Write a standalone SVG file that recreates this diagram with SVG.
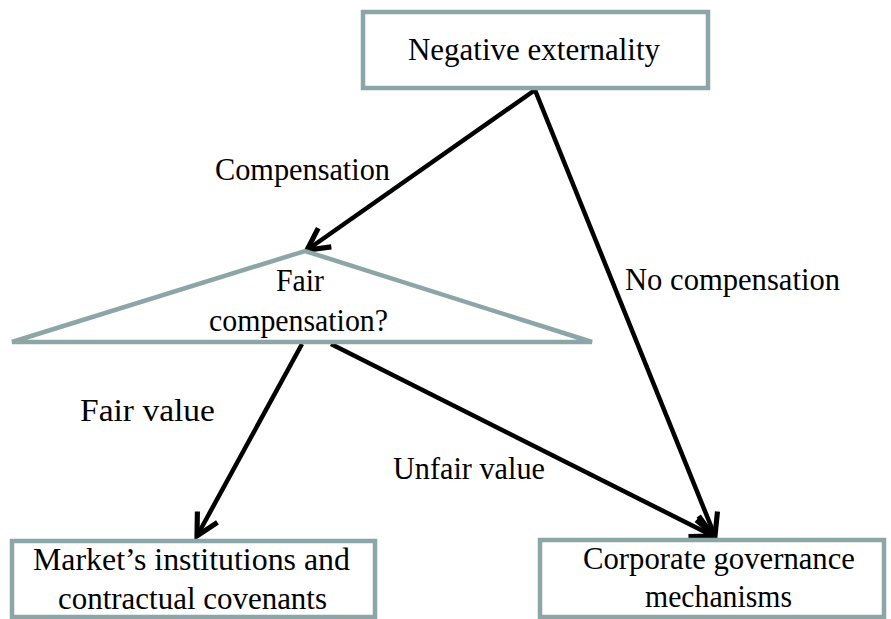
<svg xmlns="http://www.w3.org/2000/svg" width="891" height="619" viewBox="0 0 891 619">
<style>
.box{fill:#ffffff;stroke:#8ca5a7;stroke-width:4.5}
.t{font-family:"Liberation Serif","Times New Roman",serif;font-size:31px;fill:#000000}
.c{stroke:#000000;stroke-width:4.5;fill:none}
</style>
<defs>
<marker id="ah" markerUnits="userSpaceOnUse" markerWidth="32" markerHeight="32" viewBox="-24 -13 28 26" refX="0" refY="0" orient="auto">
<path d="M-19,-10 L0,0 L-19,10" fill="none" stroke="#000" stroke-width="4.5" stroke-linejoin="miter"/>
</marker>
</defs>
<rect width="891" height="619" fill="#ffffff"/>
<g id="connectors">
<line class="c" x1="535" y1="90" x2="307" y2="250" marker-end="url(#ah)"/>
<line class="c" x1="535" y1="90" x2="715" y2="536" marker-end="url(#ah)"/>
<line class="c" x1="302" y1="344" x2="197" y2="536" marker-end="url(#ah)"/>
<line class="c" x1="331" y1="344" x2="713" y2="536" marker-end="url(#ah)"/>
</g>
<g id="node-negative">
<rect class="box" x="363" y="12" width="345" height="76"/>
<text class="t" x="408" y="60" textLength="252" lengthAdjust="spacingAndGlyphs">Negative externality</text>
</g>
<g id="node-fair">
<polygon class="box" points="12,342 305,251 592,342"/>
<text class="t" x="276" y="291" textLength="48" lengthAdjust="spacingAndGlyphs">Fair</text>
<text class="t" x="209" y="331" textLength="179" lengthAdjust="spacingAndGlyphs">compensation?</text>
</g>
<g id="node-market">
<rect class="box" x="12" y="541" width="363" height="76"/>
<text class="t" x="33" y="570" textLength="317" lengthAdjust="spacingAndGlyphs">Market’s institutions and</text>
<text class="t" x="58" y="609" textLength="269" lengthAdjust="spacingAndGlyphs">contractual covenants</text>
</g>
<g id="node-corporate">
<rect class="box" x="540" y="540" width="344" height="77"/>
<text class="t" x="583" y="569" textLength="272" lengthAdjust="spacingAndGlyphs">Corporate governance</text>
<text class="t" x="645" y="607" textLength="147" lengthAdjust="spacingAndGlyphs">mechanisms</text>
</g>
<g id="labels">
<text class="t" x="215" y="180" textLength="175" lengthAdjust="spacingAndGlyphs">Compensation</text>
<text class="t" x="625" y="290" textLength="215" lengthAdjust="spacingAndGlyphs">No compensation</text>
<text class="t" x="80" y="421" textLength="135" lengthAdjust="spacingAndGlyphs">Fair value</text>
<text class="t" x="393" y="479" textLength="152" lengthAdjust="spacingAndGlyphs">Unfair value</text>
</g>
</svg>
